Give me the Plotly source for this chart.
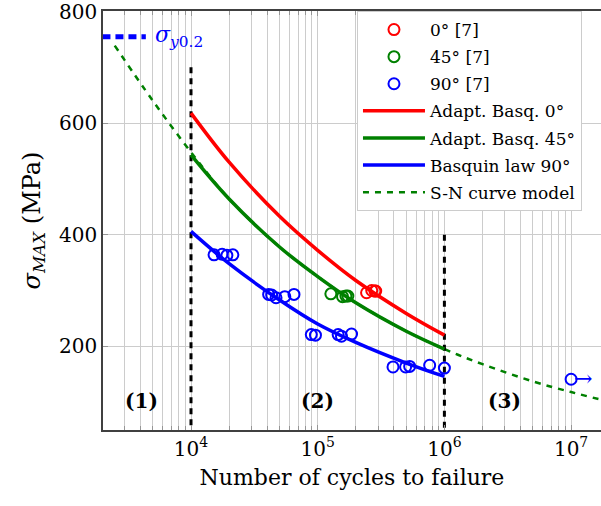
import math
import plotly.graph_objects as go


# ================================
# DATA
# ================================
# experimental points  (cycles, sigma_max MPa)
n_0deg = [2.43e5, 2.67e5, 2.83e5, 2.87e5]
s_0deg = [296, 300, 299, 299]

n_45deg = [1.27e5, 1.57e5, 1.67e5, 1.73e5]
s_45deg = [294, 289, 290, 290]

n_90deg = [1.52e4, 1.76e4, 1.92e4, 2.14e4,
           4.1e4, 4.33e4, 4.69e4, 5.5e4, 6.5e4,
           8.9e4, 9.6e4, 1.45e5, 1.54e5, 1.85e5,
           3.93e5, 4.94e5, 5.32e5, 7.65e5, 1.0e6]
s_90deg = [364, 365, 363, 364,
           293, 292, 287, 289, 293,
           221, 220, 221, 218, 222,
           163, 163, 164, 166, 161]

# run-out specimen
n_runout = [1.0e7]
s_runout = [141]

# fitted curves
n_fit = [1e4, 2e4, 5e4, 1e5, 2e5, 5e5, 1e6]
s_fit_0deg = [618, 530, 433, 372, 318, 259, 220]
s_fit_45deg = [543, 464, 378, 325, 278, 227, 195]
s_fit_90deg = [406, 348, 283, 240, 207, 170, 146]

# S-N curve model
n_model = [2.5e3, 5e3, 1e4, 2e4, 5e4, 1e5, 2e5, 5e5, 1e6, 2e6, 5e6, 1e7, 1.75e7]
s_model = [739, 640, 548, 464, 378, 325, 278, 227, 195, 168, 137, 118, 104]

# yield stress line
n_yield = [2.0e3, 4.4e3]
s_yield = [755, 755]

# region boundaries
n_bound = [1e4, 1e6]
s_bound_top = [700, 400]

region_labels = ["<b>(1)</b>", "<b>(2)</b>", "<b>(3)</b>"]
region_n = [4.1e3, 1e5, 3.0e6]
region_s = [102, 102, 102]

x_tickvals = [1e4, 1e5, 1e6, 1e7]
x_ticktext = ["10<sup>4</sup>", "10<sup>5</sup>", "10<sup>6</sup>", "10<sup>7</sup>"]
y_tickvals = [200, 400, 600, 800]


# ================================
# STYLE
# ================================
FONT = "DejaVu Serif"
RED = "rgb(255,0,0)"
GREEN = "rgb(0,128,0)"
BLUE = "rgb(0,0,255)"
GRID = "rgb(204,204,204)"
AXIS = "rgb(64,64,64)"

minor_vals = [m * 10 ** e for e in range(3, 8) for m in range(2, 10)
              if 2000 <= m * 10 ** e <= 1.7e7]


fig = go.Figure()

# ---------- S-N model (under everything) ----------
fig.add_trace(go.Scatter(
    x=n_model, y=s_model, mode="lines",
    line=dict(color=GREEN, width=2.5, dash="6px,6px", shape="spline"),
    name="S-N curve model", legendrank=7, legendgroup="g7"
))

# ---------- yield line ----------
fig.add_trace(go.Scatter(
    x=n_yield, y=s_yield, mode="lines",
    line=dict(color=BLUE, width=5, dash="8px,5px"),
    showlegend=False
))

# ---------- region boundaries ----------
for n, top in zip(n_bound, s_bound_top):
    fig.add_trace(go.Scatter(
        x=[n, n], y=[top, 50], mode="lines",
        line=dict(color="black", width=3, dash="6px,5px"),
        showlegend=False
    ))

# ---------- fitted curves ----------
fig.add_trace(go.Scatter(
    x=n_fit, y=s_fit_0deg, mode="lines",
    line=dict(color=RED, width=3.5, shape="spline"),
    name="Adapt. Basq. 0°", legendrank=4, legendgroup="g4"
))
fig.add_trace(go.Scatter(
    x=n_fit, y=s_fit_45deg, mode="lines",
    line=dict(color=GREEN, width=3.5, shape="spline"),
    name="Adapt. Basq. 45°", legendrank=5, legendgroup="g5"
))
fig.add_trace(go.Scatter(
    x=n_fit, y=s_fit_90deg, mode="lines",
    line=dict(color=BLUE, width=3.5, shape="spline"),
    name="Basquin law 90°", legendrank=6, legendgroup="g6"
))

# ---------- experimental points ----------
for n, s, col, lab, rk in [(n_0deg, s_0deg, RED, "0° [7]", 1),
                           (n_45deg, s_45deg, GREEN, "45° [7]", 2),
                           (n_90deg, s_90deg, BLUE, "90° [7]", 3)]:
    fig.add_trace(go.Scatter(
        x=n, y=s, mode="markers",
        marker=dict(symbol="circle-open", size=11, color=col, line=dict(width=2)),
        name=lab, legendrank=rk, legendgroup="g%d" % rk
    ))

fig.add_trace(go.Scatter(
    x=n_runout, y=s_runout, mode="markers",
    marker=dict(symbol="circle-open", size=11, color=BLUE, line=dict(width=2)),
    showlegend=False
))

# run-out arrow
fig.add_annotation(
    x=math.log10(n_runout[0]), y=s_runout[0], xanchor="left", yanchor="middle",
    xshift=1, yshift=1, text="→", showarrow=False,
    font=dict(family=FONT, size=22, color=BLUE)
)

# ---------- text labels ----------
for lab, n, s in zip(region_labels, region_n, region_s):
    fig.add_annotation(
        x=math.log10(n), y=s, text=lab, showarrow=False,
        font=dict(family=FONT, size=20, color="black")
    )

fig.add_annotation(
    x=math.log10(5.0e3), y=s_yield[0], xanchor="left", yanchor="middle",
    text="<i>σ</i><sub><i>y</i>0.2</sub>", showarrow=False,
    font=dict(family=FONT, size=22, color=BLUE)
)


# =====================================================
# LAYOUT
# =====================================================
fig.update_layout(
    width=601, height=506,
    margin=dict(l=103, r=0, t=11, b=76),
    paper_bgcolor="white", plot_bgcolor="white",
    font=dict(family=FONT, size=20, color="black"),
    legend=dict(
        x=0.51, y=1.0, xanchor="left", yanchor="top",
        bgcolor="white", bordercolor=GRID, borderwidth=1,
        font=dict(family=FONT, size=17),
        itemwidth=62, tracegroupgap=2
    ),
)

fig.update_xaxes(
    type="log", range=[3.3054, 7.236], automargin=False,
    tickvals=x_tickvals, ticktext=x_ticktext,
    showgrid=True, gridcolor=GRID, gridwidth=1,
    showline=True, linecolor=AXIS, linewidth=1.5, mirror="ticks",
    ticks="inside", ticklen=5, tickcolor="rgb(150,150,150)",
    minor=dict(tickvals=minor_vals, showgrid=True, gridcolor=GRID,
               ticks="inside", ticklen=4, tickcolor="rgb(150,150,150)"),
    zeroline=False, ticklabeloverflow="allow",
    title=dict(text="Number of cycles to failure", standoff=10,
               font=dict(family=FONT, size=22)),
    tickfont=dict(family=FONT, size=20),
)

fig.update_yaxes(
    range=[50, 801], tickvals=y_tickvals, automargin=False,
    showgrid=True, gridcolor=GRID, gridwidth=1,
    showline=True, linecolor=AXIS, linewidth=1.5,
    ticks="inside", ticklen=5, tickcolor="rgb(150,150,150)",
    zeroline=False, ticklabeloverflow="allow",
    title=dict(text="<i>σ</i><sub style='font-size:17px'><i>MAX</i></sub> (MPa)",
               standoff=12, font=dict(family=FONT, size=24)),
    tickfont=dict(family=FONT, size=20),
)

# page body has a default 8px margin; drop it so the figure fills the window
fig.write_html("out.html", config={"displayModeBar": False},
               post_script="document.body.style.margin='0';")
